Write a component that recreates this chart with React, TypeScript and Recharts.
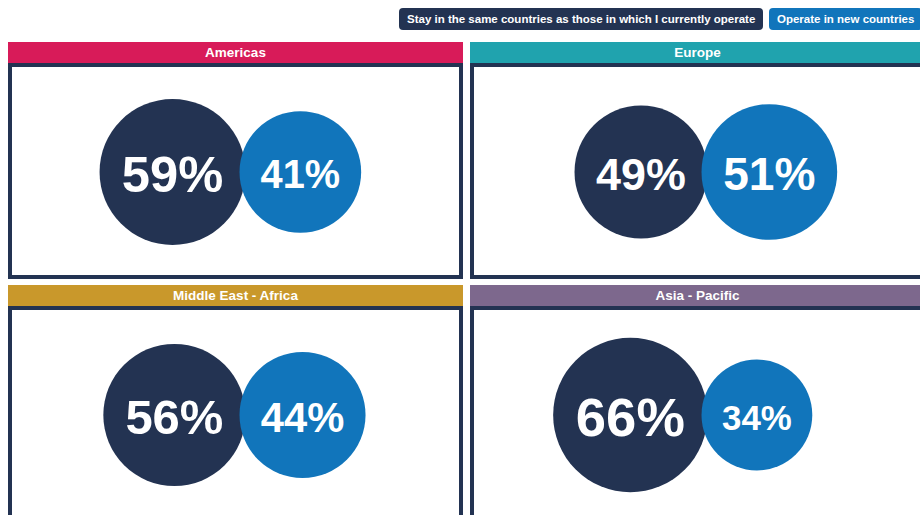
import React from 'react';
import {Scatter, ScatterChart, XAxis, YAxis, ZAxis} from 'recharts';

const regions = ['Americas', 'Europe', 'Middle East - Africa', 'Asia - Pacific'];
const stayValues = [59, 49, 56, 66];
const newValues = [41, 51, 44, 34];
const seriesNames = [
    'Stay in the same countries as those in which I currently operate',
    'Operate in new countries'
];

const NAVY = '#233352';
const BLUE = '#1175bb';
const headerColors = ['#d81b59', '#20a3ae', '#c9982b', '#7d688d'];
const seriesColors = [NAVY, BLUE];

const FONT = '"Liberation Sans", Arial, Helvetica, sans-serif';
const PANEL_W = 455;
const HEADER_H = 21;
const FRAME_H = 216;
const BORDER = 4;
const CHART_W = PANEL_W - BORDER * 2;
const CHART_H = FRAME_H - BORDER * 2;

// circle area grows with the share: r = K * sqrt(pct)
const K = 9.5;
const Z_MAX = Math.PI * (K * 10) * (K * 10);

const BubbleShape = (props: any) => {
    const {cx, cy, fill, payload} = props;
    const r = props.width ? props.width / 2 : Math.sqrt((props.size || 0) / Math.PI);
    const fontSize = r * 0.9 - 15;
    return (
        <g>
            <circle cx={cx} cy={cy} r={r} fill={fill}/>
            <text x={cx} y={cy + 2} fill="#fff" textAnchor="middle" dominantBaseline="central"
                  fontFamily={FONT} fontWeight="bold" fontSize={fontSize}>
                {payload.z}%
            </text>
        </g>
    );
};

const RegionPanel: React.FC<{ index: number; left: number; top: number }> = ({index, left, top}) => {
    const stay = stayValues[index];
    const other = newValues[index];
    const r1 = K * Math.sqrt(stay);
    const r2 = K * Math.sqrt(other);
    const touch = CHART_W / 2 + 7;
    const overlap = 6;
    const cy = CHART_H / 2 + 1;
    const stayData = [{x: touch - r1 + overlap / 2, y: cy, z: stay}];
    const newData = [{x: touch + r2 - overlap / 2, y: cy, z: other}];

    return (
        <div style={{position: 'absolute', left, top, width: PANEL_W}}>
            <div style={{
                height: HEADER_H, lineHeight: HEADER_H + 'px', background: headerColors[index],
                color: '#fff', fontFamily: FONT, fontWeight: 'bold', fontSize: 13.5, textAlign: 'center'
            }}>
                {regions[index]}
            </div>
            <div style={{
                height: FRAME_H, boxSizing: 'border-box', border: `${BORDER}px solid ${NAVY}`, background: '#fff'
            }}>
                <ScatterChart width={CHART_W} height={CHART_H} margin={{top: 0, right: 0, bottom: 0, left: 0}}>
                    <XAxis type="number" dataKey="x" domain={[0, CHART_W]} hide/>
                    <YAxis type="number" dataKey="y" domain={[0, CHART_H]} reversed hide/>
                    <ZAxis type="number" dataKey="z" domain={[0, 100]} range={[0, Z_MAX]}/>
                    <Scatter name={seriesNames[0]} data={stayData} fill={seriesColors[0]}
                             shape={BubbleShape} isAnimationActive={false}/>
                    <Scatter name={seriesNames[1]} data={newData} fill={seriesColors[1]}
                             shape={BubbleShape} isAnimationActive={false}/>
                </ScatterChart>
            </div>
        </div>
    );
};

const LegendPill: React.FC<{ label: string; color: string; left: number }> = ({label, color, left}) => (
    <div style={{
        position: 'absolute', left, top: 8, height: 22, lineHeight: '22px', padding: '0 8px',
        background: color, color: '#fff', borderRadius: 4, fontFamily: FONT, fontWeight: 'bold',
        fontSize: 11.5, whiteSpace: 'nowrap'
    }}>
        {label}
    </div>
);

export default function App() {
    return (
        <div style={{position: 'fixed', left: 0, top: 0, width: 920, height: 515, overflow: 'hidden', background: '#fff'}}>
            <LegendPill label={seriesNames[0]} color={seriesColors[0]} left={399}/>
            <LegendPill label={seriesNames[1]} color={seriesColors[1]} left={769}/>
            <RegionPanel index={0} left={8} top={42}/>
            <RegionPanel index={1} left={470} top={42}/>
            <RegionPanel index={2} left={8} top={285}/>
            <RegionPanel index={3} left={470} top={285}/>
        </div>
    );
}
